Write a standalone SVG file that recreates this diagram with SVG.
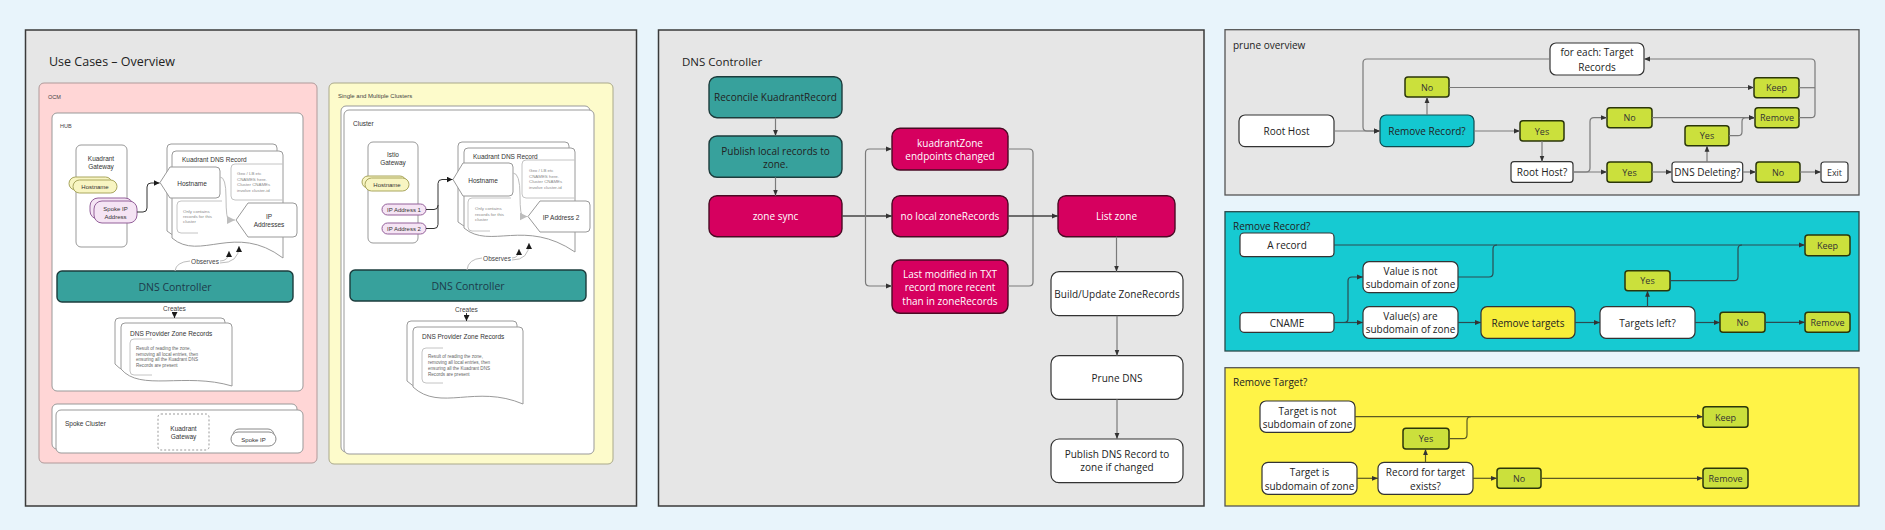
<svg xmlns="http://www.w3.org/2000/svg" width="1885" height="530" viewBox="0 0 1885 530">
<style>
.panel{fill:#e6e6e6;stroke:#3a3a3a;stroke-width:1.5}
.os{font-family:"Open Sans","Noto Sans",sans-serif}
.ls{font-family:"Liberation Sans",Arial,sans-serif}
.c{text-anchor:middle;dominant-baseline:central}
.l{dominant-baseline:central}
.wb{fill:#fff;stroke:#999;stroke-width:1}
.doc{fill:#fff;stroke:#9a9a9a;stroke-width:1}
.note{fill:none;stroke:#c4c4c4;stroke-width:1}
.tiny{font-size:4.4px;fill:#8a8a8a}
.sm{font-size:6.5px;fill:#333}
.ypill{fill:#f8f5c2;stroke:#a9a65e;stroke-width:1}
.ppill{fill:#f5e4f4;stroke:#93609a;stroke-width:1}
.teal{fill:#37a19c;stroke:#1c3c3c;stroke-width:1.4}
.mag{fill:#d6005f;stroke:#4a0a24;stroke-width:1.4}
.wf{fill:#fff;stroke:#333;stroke-width:1.2}
.grn{fill:#cbe03c;stroke:#2b360a;stroke-width:1.5}
.t10{font-size:10px;fill:#222}
.t9{font-size:9px;fill:#333}
.cg{fill:none;stroke:#7a7a7a;stroke-width:1.2}
.cd{fill:none;stroke:#444;stroke-width:1.4}
.cc{fill:none;stroke:#2c4b50;stroke-width:1.2}
.cy{fill:none;stroke:#5c5a22;stroke-width:1.2}
.cl{fill:none;stroke:#bdbdbd;stroke-width:1}
.ck{fill:none;stroke:#333;stroke-width:1}
</style>
<defs>
<marker id="a" viewBox="0 0 10 10" refX="10" refY="5" markerWidth="6" markerHeight="6" markerUnits="userSpaceOnUse" orient="auto"><path d="M0,1 L10,5 L0,9 z" fill="#333"/></marker>
<marker id="ak" viewBox="0 0 10 10" refX="10" refY="5" markerWidth="6" markerHeight="6" markerUnits="userSpaceOnUse" orient="auto"><path d="M0,0 L10,5 L0,10 z" fill="#1a1a1a"/></marker>
<marker id="ag" viewBox="0 0 10 10" refX="10" refY="5" markerWidth="8" markerHeight="8" markerUnits="userSpaceOnUse" orient="auto"><path d="M0,0 L10,5 L0,10 z" fill="#bdbdbd"/></marker>
</defs>
<rect x="0" y="0" width="1885" height="530" fill="#e8f4fb"/>

<!-- LEFT PANEL -->
<g id="panel-usecases">
<rect class="panel" x="25.5" y="30" width="611" height="476"/>
<text class="os l" x="49" y="61" font-size="12.5" fill="#222">Use Cases – Overview</text>
</g>
<g id="ocm">
<rect x="39" y="83" width="278" height="380" rx="5" fill="#ffd6d6" stroke="#b09a9a"/>
<text class="ls l" x="48" y="97" font-size="5.5" fill="#444">OCM</text>
</g>
<g id="hub">
<rect class="wb" x="52" y="113" width="251" height="278" rx="5"/>
<text class="ls l" x="60" y="126" font-size="5.5" fill="#444">HUB</text>
</g>
<g id="hub-gateway">
<rect class="wb" x="76" y="145" width="51" height="102" rx="5"/>
<text class="ls c sm" x="101" y="158">Kuadrant</text>
<text class="ls c sm" x="101" y="166">Gateway</text>
</g>
<g id="hub-hostname-pill">
<rect class="ypill" x="69" y="177" width="43" height="13" rx="6.5"/>
<rect class="ypill" x="73" y="180" width="44" height="13" rx="6.5"/>
<text class="ls c" x="95" y="186.5" font-size="6" fill="#333">Hostname</text>
</g>
<g id="hub-spokeip-pill">
<rect class="ppill" x="90" y="198" width="43" height="21" rx="8"/>
<rect class="ppill" x="94" y="201" width="43" height="22" rx="8"/>
<text class="ls c" x="115.5" y="208.5" font-size="6" fill="#333">Spoke IP</text>
<text class="ls c" x="115.5" y="216.5" font-size="6" fill="#333">Address</text>
</g>
<g id="hub-dnsrecord">
<path class="doc" d="M167,148 Q167,144 171,144 H273 Q277,144 277,148 V251 C230,215 195,255 167,231 Z"/>
<path class="doc" d="M172,155 Q172,151 176,151 H279 Q283,151 283,155 V258 C235,222 200,262 172,238 Z"/>
<text class="ls l sm" x="182" y="159.5">Kuadrant DNS Record</text>
</g>
<g id="hub-hostname">
<path class="wb" d="M160,182.5 L170,167 H216 Q220,167 220,171 V194 Q220,198 216,198 H170 Z"/>
<text class="ls c" x="192" y="183" font-size="6.5" fill="#333">Hostname</text>
</g>
<g id="hub-geo-note">
<path class="note" d="M283,164 H235 Q231,164 231,168 V196 Q231,200 235,200 H283"/>
<text class="ls tiny" x="237" y="175">Geo / LB etc</text>
<text class="ls tiny" x="237" y="180.5">CNAMES here.</text>
<text class="ls tiny" x="237" y="186">Cluster CNAMEs</text>
<text class="ls tiny" x="237" y="191.5">involve cluster-id</text>
</g>
<g id="hub-only-note">
<path class="note" d="M222,201 H181 Q177,201 177,205 V229 Q177,233 181,233 H198"/>
<text class="ls tiny" x="183" y="213">Only contains</text>
<text class="ls tiny" x="183" y="218">records for this</text>
<text class="ls tiny" x="183" y="223">cluster</text>
</g>
<g id="hub-ipaddresses">
<path class="wb" d="M236,220 L248,203 H293 Q297,203 297,207 V233 Q297,237 293,237 H248 Z"/>
<text class="ls c" x="269" y="216" font-size="6.5" fill="#333">IP</text>
<text class="ls c" x="269" y="224" font-size="6.5" fill="#333">Addresses</text>
</g>
<g id="hub-dnscontroller">
<rect class="teal" x="57" y="271" width="236" height="31" rx="5"/>
<text class="os c" x="175" y="286.5" font-size="10.5" fill="#1d3a4a">DNS Controller</text>
</g>
<g id="hub-provider">
<path class="doc" d="M115,322 Q115,318 119,318 H221 Q225,318 225,322 V380 C180,368 135,386 115,364 Z"/>
<path class="doc" d="M121,327 Q121,323 125,323 H228 Q232,323 232,327 V386 C185,372 140,392 121,369 Z"/>
<text class="ls l sm" x="130" y="333">DNS Provider Zone Records</text>
<path class="note" d="M152,339 H134 Q130,339 130,343 V371 Q130,375 134,375 H152"/>
<text class="ls" x="136" y="350" font-size="4.6" fill="#666">Result of reading the zone,</text>
<text class="ls" x="136" y="355.5" font-size="4.6" fill="#666">removing all local entries, then</text>
<text class="ls" x="136" y="361" font-size="4.6" fill="#666">ensuring all the Kuadrant DNS</text>
<text class="ls" x="136" y="366.5" font-size="4.6" fill="#666">Records are present</text>
</g>
<g id="spoke-cluster">
<rect class="wb" x="52" y="404" width="245" height="45" rx="5"/>
<rect class="wb" x="56" y="410" width="247" height="43" rx="5"/>
<text class="ls l sm" x="65" y="423">Spoke Cluster</text>
<rect x="158" y="414" width="51" height="36" rx="3" fill="#fff" stroke="#999" stroke-dasharray="2,2"/>
<text class="ls c sm" x="183.5" y="428">Kuadrant</text>
<text class="ls c sm" x="183.5" y="436">Gateway</text>
<rect x="233" y="429" width="41" height="12" rx="6" fill="#fff" stroke="#888"/>
<rect x="231" y="432" width="45" height="14" rx="7" fill="#fff" stroke="#888"/>
<text class="ls c" x="253.5" y="439.5" font-size="6" fill="#333">Spoke IP</text>
</g>

<!-- SINGLE / MULTIPLE -->
<g id="single-multi">
<rect x="329" y="83" width="284" height="381" rx="5" fill="#fdfbcb" stroke="#aaa98a"/>
<text class="ls l" x="338" y="96" font-size="6" fill="#444">Single and Multiple Clusters</text>
</g>
<g id="cluster">
<rect class="wb" x="341" y="106" width="249" height="346" rx="5"/>
<rect class="wb" x="344" y="110" width="250" height="344" rx="5"/>
<text class="ls l sm" x="353" y="123">Cluster</text>
</g>
<g id="istio-gateway">
<rect class="wb" x="368" y="142" width="50" height="101" rx="5"/>
<text class="ls c sm" x="393" y="154">Istio</text>
<text class="ls c sm" x="393" y="162.5">Gateway</text>
</g>
<g id="cl-hostname-pill">
<rect class="ypill" x="362" y="176" width="44" height="12" rx="6"/>
<rect class="ypill" x="365" y="178" width="44" height="13" rx="6.5"/>
<text class="ls c" x="387" y="184.5" font-size="6" fill="#333">Hostname</text>
</g>
<g id="cl-ip1">
<rect class="ppill" x="382" y="204" width="44" height="11" rx="5.5"/>
<text class="ls c" x="404" y="209.5" font-size="6" fill="#333">IP Address 1</text>
</g>
<g id="cl-ip2">
<rect class="ppill" x="382" y="223" width="44" height="11" rx="5.5"/>
<text class="ls c" x="404" y="228.5" font-size="6" fill="#333">IP Address 2</text>
</g>
<g id="cl-dnsrecord">
<path class="doc" d="M458,146 Q458,142 462,142 H565 Q569,142 569,146 V246 C520,212 485,244 458,222 Z"/>
<path class="doc" d="M464,152 Q464,148 468,148 H571 Q575,148 575,152 V252 C525,218 490,250 464,228 Z"/>
<text class="ls l sm" x="473" y="156.5">Kuadrant DNS Record</text>
</g>
<g id="cl-hostname">
<path class="wb" d="M453,179.5 L463,163 H509 Q513,163 513,167 V192 Q513,196 509,196 H463 Z"/>
<text class="ls c" x="483" y="180" font-size="6.5" fill="#333">Hostname</text>
</g>
<g id="cl-geo-note">
<path class="note" d="M575,160 H526 Q522,160 522,164 V194 Q522,198 526,198 H575"/>
<text class="ls tiny" x="529" y="172">Geo / LB etc</text>
<text class="ls tiny" x="529" y="177.5">CNAMES here.</text>
<text class="ls tiny" x="529" y="183">Cluster CNAMEs</text>
<text class="ls tiny" x="529" y="188.5">involve cluster-id</text>
</g>
<g id="cl-only-note">
<path class="note" d="M511,198 H472 Q468,198 468,202 V227 Q468,231 472,231 H490"/>
<text class="ls tiny" x="475" y="210">Only contains</text>
<text class="ls tiny" x="475" y="215.5">records for this</text>
<text class="ls tiny" x="475" y="221">cluster</text>
</g>
<g id="cl-ip2-record">
<path class="wb" d="M528,216.5 L540,201 H586 Q590,201 590,205 V228 Q590,232 586,232 H540 Z"/>
<text class="ls c" x="561" y="217" font-size="6.5" fill="#333">IP Address 2</text>
</g>
<g id="cl-dnscontroller">
<rect class="teal" x="350" y="270" width="236" height="31" rx="5"/>
<text class="os c" x="468" y="285.5" font-size="10.5" fill="#1d3a4a">DNS Controller</text>
</g>
<g id="cl-provider">
<path class="doc" d="M407,325 Q407,321 411,321 H513 Q517,321 517,325 V398 C470,378 434,406 407,381 Z"/>
<path class="doc" d="M413,331 Q413,327 417,327 H519 Q523,327 523,331 V404 C476,384 440,412 413,387 Z"/>
<text class="ls l sm" x="422" y="336">DNS Provider Zone Records</text>
<path class="note" d="M443,348 H426 Q422,348 422,352 V379 Q422,383 426,383 H443"/>
<text class="ls" x="428" y="358" font-size="4.6" fill="#666">Result of reading the zone,</text>
<text class="ls" x="428" y="364" font-size="4.6" fill="#666">removing all local entries, then</text>
<text class="ls" x="428" y="370" font-size="4.6" fill="#666">ensuring all the Kuadrant DNS</text>
<text class="ls" x="428" y="376" font-size="4.6" fill="#666">Records are present</text>
</g>

<!-- MIDDLE PANEL -->
<g id="panel-dnscontroller">
<rect class="panel" x="658.5" y="30" width="545.5" height="476"/>
<text class="os l" x="682" y="61" font-size="11.5" fill="#222">DNS Controller</text>
</g>
<g id="reconcile"><rect class="teal" x="709" y="76.7" width="133" height="41" rx="8"/><text class="os c t10" x="775.5" y="97" fill="#1e3a3a">Reconcile KuadrantRecord</text></g>
<g id="publish-local"><rect class="teal" x="709" y="136" width="133" height="41.3" rx="8"/><text class="os c t10" x="775.5" y="150.5">Publish local records to</text><text class="os c t10" x="775.5" y="163.5">zone.</text></g>
<g id="zone-sync"><rect class="mag" x="709" y="195.7" width="133" height="41" rx="8"/><text class="os c" x="775.5" y="216" font-size="10" fill="#fff">zone sync</text></g>
<g id="kz-changed"><rect class="mag" x="892" y="128.3" width="116" height="41.7" rx="8"/><text class="os c" x="950" y="142.5" font-size="10" fill="#fff">kuadrantZone</text><text class="os c" x="950" y="156" font-size="10" fill="#fff">endpoints changed</text></g>
<g id="no-local"><rect class="mag" x="892" y="195.7" width="116" height="41" rx="8"/><text class="os c" x="950" y="216" font-size="10" fill="#fff">no local zoneRecords</text></g>
<g id="last-modified"><rect class="mag" x="892" y="260" width="116" height="53.3" rx="8"/><text class="os c" x="950" y="274" font-size="10" fill="#fff">Last modified in TXT</text><text class="os c" x="950" y="287.3" font-size="10" fill="#fff">record more recent</text><text class="os c" x="950" y="300.7" font-size="10" fill="#fff">than in zoneRecords</text></g>
<g id="list-zone"><rect class="mag" x="1058" y="195.7" width="117" height="41" rx="8"/><text class="os c" x="1116.5" y="216" font-size="10" fill="#fff">List zone</text></g>
<g id="build-update"><rect class="wf" x="1051" y="271.7" width="132" height="44" rx="8"/><text class="os c t10" x="1117" y="293.7">Build/Update ZoneRecords</text></g>
<g id="prune-dns"><rect class="wf" x="1051" y="355.7" width="132" height="43.6" rx="8"/><text class="os c t10" x="1117" y="377.5">Prune DNS</text></g>
<g id="publish-dns"><rect class="wf" x="1051" y="439" width="132" height="43.7" rx="8"/><text class="os c t10" x="1117" y="454">Publish DNS Record to</text><text class="os c t10" x="1117" y="467.3">zone if changed</text></g>

<!-- PRUNE OVERVIEW -->
<g id="panel-prune">
<rect x="1225" y="29.7" width="634" height="165.3" fill="#e6e6e6" stroke="#555" stroke-width="1.3"/>
<text class="os l t10" x="1233" y="45">prune overview</text>
</g>
<g id="p-roothost"><rect class="wf" x="1239" y="115" width="95" height="31.7" rx="6"/><text class="os c t10" x="1286.5" y="131">Root Host</text></g>
<g id="p-removerecord"><rect x="1380" y="115" width="94" height="31.7" rx="6" fill="#14c8d0" stroke="#0e4a4e" stroke-width="1.2"/><text class="os c t10" x="1427" y="131">Remove Record?</text></g>
<g id="p-no1"><rect class="grn" x="1405" y="77" width="44" height="20" rx="3"/><text class="os c t9" x="1427" y="87">No</text></g>
<g id="p-foreach"><rect class="wf" x="1550" y="43" width="94" height="32" rx="6"/><text class="os c t10" x="1597" y="52.3">for each: Target</text><text class="os c t10" x="1597" y="66.7">Records</text></g>
<g id="p-yes1"><rect class="grn" x="1520" y="120.7" width="44" height="20.3" rx="3"/><text class="os c t9" x="1542" y="131">Yes</text></g>
<g id="p-roothostq"><rect class="wf" x="1511" y="161.7" width="62" height="20.6" rx="3"/><text class="os c t10" x="1542" y="172">Root Host?</text></g>
<g id="p-no2"><rect class="grn" x="1607" y="107.7" width="45" height="20" rx="3"/><text class="os c t9" x="1629.5" y="117.7">No</text></g>
<g id="p-yes2"><rect class="grn" x="1607" y="162" width="45" height="20.3" rx="3"/><text class="os c t9" x="1629.5" y="172">Yes</text></g>
<g id="p-dnsdeleting"><rect class="wf" x="1672" y="162" width="70.7" height="20.3" rx="3"/><text class="os c t10" x="1707.3" y="172">DNS Deleting?</text></g>
<g id="p-yes3"><rect class="grn" x="1685" y="125.7" width="44" height="20" rx="3"/><text class="os c t9" x="1707" y="135.7">Yes</text></g>
<g id="p-no3"><rect class="grn" x="1756" y="162" width="44" height="20.3" rx="3"/><text class="os c t9" x="1778" y="172">No</text></g>
<g id="p-exit"><rect class="wf" x="1821" y="162" width="27" height="20.3" rx="3"/><text class="os c t9" x="1834.5" y="172">Exit</text></g>
<g id="p-keep"><rect class="grn" x="1754" y="77.7" width="45" height="20" rx="3"/><text class="os c t9" x="1776.5" y="87.7">Keep</text></g>
<g id="p-remove"><rect class="grn" x="1755" y="107.7" width="44" height="20" rx="3"/><text class="os c t9" x="1777" y="117.7">Remove</text></g>

<!-- REMOVE RECORD -->
<g id="panel-removerecord">
<rect x="1225" y="211.7" width="634" height="139.3" fill="#16cad2" stroke="#2a4a4a" stroke-width="1.3"/>
<text class="os l t10" x="1233" y="225.7" fill="#1a3a3a">Remove Record?</text>
</g>
<g id="r-arecord"><rect class="wf" x="1240" y="233" width="94" height="23.7" rx="4"/><text class="os c t10" x="1287" y="245">A record</text></g>
<g id="r-notsub"><rect class="wf" x="1363" y="261.7" width="95" height="31" rx="6"/><text class="os c t10" x="1410.5" y="270.7">Value is not</text><text class="os c t10" x="1410.5" y="284.3">subdomain of zone</text></g>
<g id="r-cname"><rect class="wf" x="1240" y="312.7" width="94" height="19.6" rx="4"/><text class="os c t10" x="1287" y="322.5">CNAME</text></g>
<g id="r-aresub"><rect class="wf" x="1363" y="306.7" width="95" height="31.6" rx="6"/><text class="os c t10" x="1410.5" y="315.7">Value(s) are</text><text class="os c t10" x="1410.5" y="329">subdomain of zone</text></g>
<g id="r-removetargets"><rect x="1481" y="306.7" width="94" height="31.6" rx="6" fill="#f7ee3a" stroke="#333" stroke-width="1.2"/><text class="os c t10" x="1528" y="322.5">Remove targets</text></g>
<g id="r-targetsleft"><rect class="wf" x="1600" y="306.7" width="95" height="31.6" rx="6"/><text class="os c t10" x="1647.5" y="322.5">Targets left?</text></g>
<g id="r-yes"><rect class="grn" x="1625" y="270.7" width="45" height="20" rx="3"/><text class="os c t9" x="1647.5" y="280.7">Yes</text></g>
<g id="r-no"><rect class="grn" x="1720" y="312.3" width="45" height="20" rx="3"/><text class="os c t9" x="1742.5" y="322.3">No</text></g>
<g id="r-remove"><rect class="grn" x="1805" y="312.3" width="45" height="20" rx="3"/><text class="os c t9" x="1827.5" y="322.3">Remove</text></g>
<g id="r-keep"><rect class="grn" x="1805" y="235" width="45" height="20.7" rx="3"/><text class="os c t9" x="1827.5" y="245.3">Keep</text></g>

<!-- REMOVE TARGET -->
<g id="panel-removetarget">
<rect x="1225" y="367.7" width="634" height="138.3" fill="#fff347" stroke="#555" stroke-width="1.3"/>
<text class="os l t10" x="1233" y="381.7">Remove Target?</text>
</g>
<g id="t-notsub"><rect class="wf" x="1260" y="401" width="95" height="31.3" rx="6"/><text class="os c t10" x="1307.5" y="410.7">Target is not</text><text class="os c t10" x="1307.5" y="424.3">subdomain of zone</text></g>
<g id="t-yes"><rect class="grn" x="1403" y="428.3" width="46" height="20.7" rx="3"/><text class="os c t9" x="1426" y="438.7">Yes</text></g>
<g id="t-issub"><rect class="wf" x="1262" y="462.3" width="95" height="32" rx="6"/><text class="os c t10" x="1309.5" y="471.7">Target is</text><text class="os c t10" x="1309.5" y="485.7">subdomain of zone</text></g>
<g id="t-exists"><rect class="wf" x="1378" y="462.3" width="95" height="32" rx="6"/><text class="os c t10" x="1425.5" y="471.7">Record for target</text><text class="os c t10" x="1425.5" y="485.7">exists?</text></g>
<g id="t-no"><rect class="grn" x="1497" y="468.3" width="44" height="20" rx="3"/><text class="os c t9" x="1519" y="478.3">No</text></g>
<g id="t-keep"><rect class="grn" x="1703" y="406.7" width="45" height="20.6" rx="3"/><text class="os c t9" x="1725.5" y="417">Keep</text></g>
<g id="t-remove"><rect class="grn" x="1703" y="468.3" width="45" height="20" rx="3"/><text class="os c t9" x="1725.5" y="478.3">Remove</text></g>

<!-- CONNECTORS -->
<g id="connectors">
<!-- left panel -->
<path class="ck" d="M137,212 H143 Q147,212 147,208 V187 Q147,183 151,183 H159.5" marker-end="url(#ak)"/>
<path class="cl" d="M220,177 Q226,177 226,197 Q226,220 229,220 H235" marker-end="url(#ag)"/>
<path class="cl" d="M175,271 Q176,262 190,261"/>
<path class="cl" d="M220,261 Q229,261 229,251" marker-end="url(#ak)"/>
<path class="cl" d="M220,263 Q239,263 239,246" marker-end="url(#ak)"/>
<text class="ls c" x="205" y="261.5" font-size="6.5" fill="#444">Observes</text>
<text class="ls c" x="174.5" y="308" font-size="6.5" fill="#444">Creates</text>
<path class="ck" d="M174.5,312 V318" marker-end="url(#ak)"/>
<path class="ck" d="M426,209.5 H434 Q438,209.5 438,205.5 V183.5 Q438,179.5 442,179.5 H452.5" marker-end="url(#ak)"/>
<path class="ck" d="M426,228.5 H434 Q438,228.5 438,224.5 V205"/>
<path class="cl" d="M513,173 Q520,173 520,195 Q520,216.5 523,216.5 H527.5" marker-end="url(#ag)"/>
<path class="cl" d="M467,270 Q468,259 482,258"/>
<path class="cl" d="M512,258 Q519,258 519,249" marker-end="url(#ak)"/>
<path class="cl" d="M512,260 Q529,260 529,243" marker-end="url(#ak)"/>
<text class="ls c" x="497" y="258.5" font-size="6.5" fill="#444">Observes</text>
<text class="ls c" x="466.5" y="309" font-size="6.5" fill="#444">Creates</text>
<path class="ck" d="M466.5,313 V321" marker-end="url(#ak)"/>
<!-- middle -->
<path class="cg" d="M775.5,117.7 V136" marker-end="url(#a)"/>
<path class="cg" d="M775.5,177.3 V195.7" marker-end="url(#a)"/>
<path class="cd" d="M842,216 H892" marker-end="url(#a)"/>
<path class="cg" d="M865.5,216 V153 Q865.5,149 869.5,149 H892" marker-end="url(#a)"/>
<path class="cg" d="M865.5,216 V282 Q865.5,286 869.5,286 H892" marker-end="url(#a)"/>
<path class="cg" d="M1008,149 H1029 Q1033,149 1033,153 V216"/>
<path class="cg" d="M1008,286 H1029 Q1033,286 1033,282 V216"/>
<path class="cd" d="M1008,216 H1058" marker-end="url(#a)"/>
<path class="cg" d="M1116.5,236.7 V271.7" marker-end="url(#a)"/>
<path class="cg" d="M1117,315.7 V355.7" marker-end="url(#a)"/>
<path class="cg" d="M1117,399.3 V439" marker-end="url(#a)"/>
<!-- prune overview -->
<path class="cg" d="M1334,131 H1380" marker-end="url(#a)"/>
<path class="cg" d="M1550,59 H1367 Q1363,59 1363,63 V127 Q1363,131 1367,131 H1380" marker-end="url(#a)"/>
<path class="cg" d="M1427,115 V97" marker-end="url(#a)"/>
<path class="cg" d="M1449,87.5 H1754" marker-end="url(#a)"/>
<path class="cg" d="M1474,131 H1520" marker-end="url(#a)"/>
<path class="cg" d="M1542,141 V161.7" marker-end="url(#a)"/>
<path class="cg" d="M1573,172 H1586 Q1590,172 1590,168 V121.7 Q1590,117.7 1594,117.7 H1607" marker-end="url(#a)"/>
<path class="cg" d="M1573,172 H1607" marker-end="url(#a)"/>
<path class="cg" d="M1652,172 H1672" marker-end="url(#a)"/>
<path class="cg" d="M1707,162 V145.7" marker-end="url(#a)"/>
<path class="cg" d="M1742.7,172 H1756" marker-end="url(#a)"/>
<path class="cg" d="M1800,172 H1821" marker-end="url(#a)"/>
<path class="cg" d="M1652,117.7 H1755" marker-end="url(#a)"/>
<path class="cg" d="M1729,135.7 H1738 Q1742,135.7 1742,131.7 V121.7 Q1742,117.7 1746,117.7 H1755" marker-end="url(#a)"/>
<path class="cg" d="M1799,117.7 H1811 Q1815,117.7 1815,113.7 V63 Q1815,59 1811,59 H1644" marker-end="url(#a)"/>
<path class="cg" d="M1799,87.7 H1815"/>
<!-- remove record -->
<path class="cc" d="M1334,245 H1805" marker-end="url(#a)"/>
<path class="cc" d="M1458,277 H1489 Q1493,277 1493,273 V249 Q1493,245 1497,245"/>
<path class="cc" d="M1670,280.7 H1734 Q1738,280.7 1738,276.7 V249 Q1738,245 1742,245"/>
<path class="cc" d="M1334,322.5 H1344 Q1348,322.5 1348,318.5 V281 Q1348,277 1352,277 H1363" marker-end="url(#a)"/>
<path class="cc" d="M1334,322.5 H1363" marker-end="url(#a)"/>
<path class="cc" d="M1458,322.5 H1481" marker-end="url(#a)"/>
<path class="cc" d="M1575,322.5 H1600" marker-end="url(#a)"/>
<path class="cc" d="M1695,322.5 H1720" marker-end="url(#a)"/>
<path class="cc" d="M1765,322.3 H1805" marker-end="url(#a)"/>
<path class="cc" d="M1647.5,306.7 V290.7" marker-end="url(#a)"/>
<!-- remove target -->
<path class="cy" d="M1355,416.7 H1703" marker-end="url(#a)"/>
<path class="cy" d="M1449,438.7 H1463 Q1467,438.7 1467,434.7 V420.7 Q1467,416.7 1471,416.7"/>
<path class="cy" d="M1357,478.3 H1378" marker-end="url(#a)"/>
<path class="cy" d="M1473,478.3 H1497" marker-end="url(#a)"/>
<path class="cy" d="M1541,478.3 H1703" marker-end="url(#a)"/>
<path class="cy" d="M1425.5,462.3 V449" marker-end="url(#a)"/>
</g>
</svg>
